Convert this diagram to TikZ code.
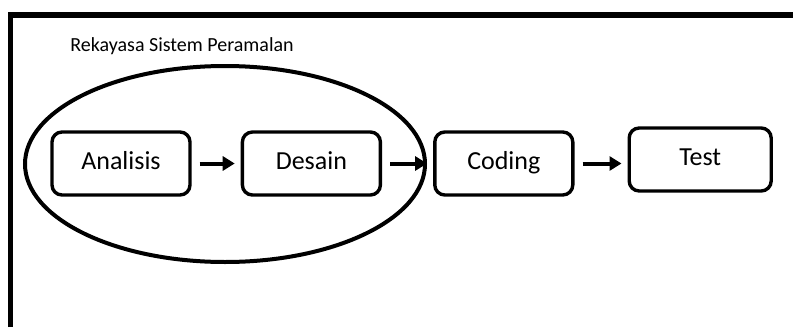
\documentclass[tikz,border=0pt]{standalone}
\usepackage{fontspec}
\setmainfont{Carlito}
\usetikzlibrary{arrows.meta,positioning,shapes.geometric}

\begin{document}
\begin{tikzpicture}[x=0.5pt,y=-0.5pt,>={Triangle[length=6pt,width=7pt]}]
    \tikzset{frame/.style={line width=2.6pt},
    rblock/.style={draw, shape=rectangle, rounded corners=5pt, line width=1.7pt, align=center, minimum width=69pt, minimum height=31.5pt, inner sep=0pt, text height=8.5pt, text depth=2.5pt, font=\fontsize{13}{15}\selectfont},
    flow/.style={->, line width=2pt, shorten <=4pt, shorten >=3pt},
    }
    \useasboundingbox (0,0) rectangle (793,327);
    % open frame: left side and top only
    \draw[frame] (10.5,327) -- (10.5,15) -- (793,15);
    \node[anchor=west, inner sep=0pt, font=\fontsize{10}{12}\selectfont] (title) at (70,46) {Rekayasa Sistem Peramalan};

    \node [rblock] (analisis) at (121,163.5) {Analisis};
    \node [rblock, right=24.5pt of analisis] (desain) {Desain};
    \node [rblock, right=25.5pt of desain] (coding) {Coding};
    \node [rblock, right=26.5pt of coding, yshift=2pt, minimum width=71pt] (test) {Test};
    %% group round the first two steps
    \node [draw, ellipse, line width=2pt, minimum width=200pt, minimum height=98pt] (group) at (225,164) {};

% paths
    \path[draw, flow]
                (analisis) edge (desain)
                (desain) edge (coding)
                ;
    \draw[flow] (coding.east) -- (coding.east -| test.west);
\end{tikzpicture}
\end{document}
